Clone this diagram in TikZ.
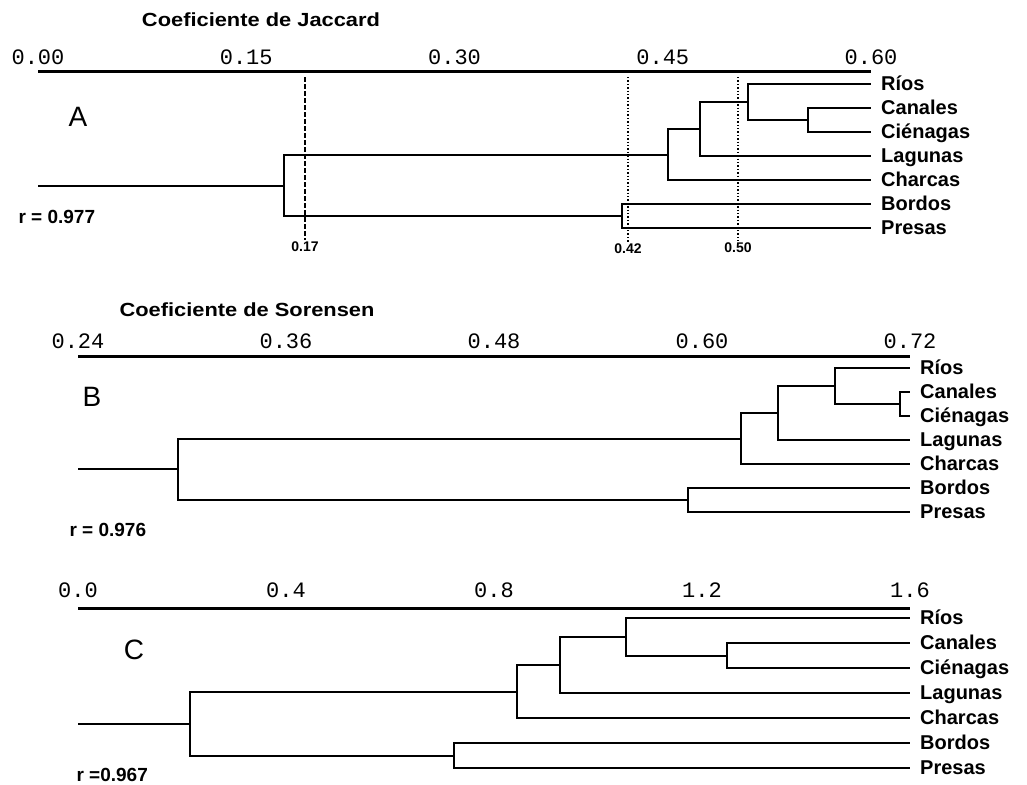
\documentclass[tikz,border=0pt]{standalone}
\usepackage{fontspec}
\usepackage{graphicx}
\setmainfont{Liberation Sans}
\newfontfamily\tickfont{Liberation Mono}

\tikzset{
  tree/.style={line width=2pt},
  axisline/.style={line width=3pt},
  ticklabel/.style={font=\tickfont\fontsize{22}{22}\selectfont},
  leaf/.style={anchor=west, inner xsep=10pt, inner ysep=0pt, text height=17pt, text depth=3.4pt,
    font=\bfseries\fontsize{20}{20}\selectfont},
  axtitle/.style={font=\bfseries\fontsize{19}{19}\selectfont},
  panel/.style={font=\fontsize{28}{28}\selectfont},
  coef/.style={anchor=west, font=\bfseries\fontsize{19}{19}\selectfont},
  cut/.style={inner sep=2pt, font=\bfseries\fontsize{14}{14}\selectfont}
}

\begin{document}
\begin{tikzpicture}[x=1pt,y=-1pt]
\useasboundingbox (0,0) rectangle (1027,784);
% A: Jaccard
\node[axtitle] (titA) at (261,20) {\scalebox{1.15}[1]{Coeficiente de Jaccard}};
\coordinate (axA0) at (38,71);
\coordinate (axA1) at (871,71);
\draw[axisline] (axA0) -- (axA1);
\foreach \v [count=\i from 0] in {0.00,0.15,0.30,0.45,0.60}
  \node[ticklabel] (tkA\i) at (38+208.25*\i,57) {\v};
\node[panel] (lblA) at (78,117) {A};
\node[coef] (rA) at (15,217) {r = 0.977};
\foreach \n/\t [count=\k from 0] in {rios/Ríos,canales/Canales,cienagas/Ciénagas,lagunas/Lagunas,charcas/Charcas,bordos/Bordos,presas/Presas}
  \node[leaf] (A\n) at (871,84+24*\k) {\t};
\coordinate (Acc) at (808,120);
\coordinate (Arcc) at (748,102);
\coordinate (Arccl) at (700,129);
\coordinate (Aup) at (668,155);
\coordinate (Abp) at (622,216);
\coordinate (Aroot) at (284,186);
\coordinate (Astem) at (38,186);
\draw[tree] (Acc) |- (Acanales.west) (Acc) |- (Acienagas.west);
\draw[tree] (Arcc) |- (Arios.west) (Arcc) |- (Acc);
\draw[tree] (Arccl) |- (Arcc) (Arccl) |- (Alagunas.west);
\draw[tree] (Aup) |- (Arccl) (Aup) |- (Acharcas.west);
\draw[tree] (Abp) |- (Abordos.west) (Abp) |- (Apresas.west);
\draw[tree] (Aroot) |- (Aup) (Aroot) |- (Abp);
\draw[tree] (Astem) -- (Aroot);
% cut levels
\node[cut] (c017) at (305,247) {0.17};
\node[cut] (c042) at (628,249) {0.42};
\node[cut] (c050) at (738,248) {0.50};
\draw[line width=1.3pt, dash pattern=on 5pt off 2pt] (305,77) -- (c017.north);
\draw[line width=1.4pt, dotted] (628,77) -- (c042.north);
\draw[line width=1.4pt, dotted] (738,77) -- (c050.north);
% B: Sorensen
\node[axtitle] (titB) at (247,310) {\scalebox{1.15}[1]{Coeficiente de Sorensen}};
\coordinate (axB0) at (78,356);
\coordinate (axB1) at (910,356);
\draw[axisline] (axB0) -- (axB1);
\foreach \v [count=\i from 0] in {0.24,0.36,0.48,0.60,0.72}
  \node[ticklabel] (tkB\i) at (78+208*\i,341) {\v};
\node[panel] (lblB) at (92,397) {B};
\node[coef] (rB) at (66,530) {r = 0.976};
\foreach \n/\t [count=\k from 0] in {rios/Ríos,canales/Canales,cienagas/Ciénagas,lagunas/Lagunas,charcas/Charcas,bordos/Bordos,presas/Presas}
  \node[leaf] (B\n) at (910,368+24*\k) {\t};
\coordinate (Bcc) at (900,404);
\coordinate (Brcc) at (835,386);
\coordinate (Brccl) at (778,413);
\coordinate (Bup) at (741,439);
\coordinate (Bbp) at (688,500);
\coordinate (Broot) at (178,469);
\coordinate (Bstem) at (78,469);
\draw[tree] (Bcc) |- (Bcanales.west) (Bcc) |- (Bcienagas.west);
\draw[tree] (Brcc) |- (Brios.west) (Brcc) |- (Bcc);
\draw[tree] (Brccl) |- (Brcc) (Brccl) |- (Blagunas.west);
\draw[tree] (Bup) |- (Brccl) (Bup) |- (Bcharcas.west);
\draw[tree] (Bbp) |- (Bbordos.west) (Bbp) |- (Bpresas.west);
\draw[tree] (Broot) |- (Bup) (Broot) |- (Bbp);
\draw[tree] (Bstem) -- (Broot);
% C
\coordinate (axC0) at (78,608);
\coordinate (axC1) at (910,608);
\draw[axisline] (axC0) -- (axC1);
\foreach \v [count=\i from 0] in {0.0,0.4,0.8,1.2,1.6}
  \node[ticklabel] (tkC\i) at (78+208*\i,590) {\v};
\node[panel] (lblC) at (134,650) {C};
\node[coef] (rC) at (73,775) {r =0.967};
\foreach \n/\t [count=\k from 0] in {rios/Ríos,canales/Canales,cienagas/Ciénagas,lagunas/Lagunas,charcas/Charcas,bordos/Bordos,presas/Presas}
  \node[leaf] (C\n) at (910,618+25*\k) {\t};
\coordinate (Ccc) at (727,656);
\coordinate (Crcc) at (626,637);
\coordinate (Crccl) at (560,665);
\coordinate (Cup) at (517,692);
\coordinate (Cbp) at (454,756);
\coordinate (Croot) at (190,724);
\coordinate (Cstem) at (78,724);
\draw[tree] (Ccc) |- (Ccanales.west) (Ccc) |- (Ccienagas.west);
\draw[tree] (Crcc) |- (Crios.west) (Crcc) |- (Ccc);
\draw[tree] (Crccl) |- (Crcc) (Crccl) |- (Clagunas.west);
\draw[tree] (Cup) |- (Crccl) (Cup) |- (Ccharcas.west);
\draw[tree] (Cbp) |- (Cbordos.west) (Cbp) |- (Cpresas.west);
\draw[tree] (Croot) |- (Cup) (Croot) |- (Cbp);
\draw[tree] (Cstem) -- (Croot);
\end{tikzpicture}
\end{document}
